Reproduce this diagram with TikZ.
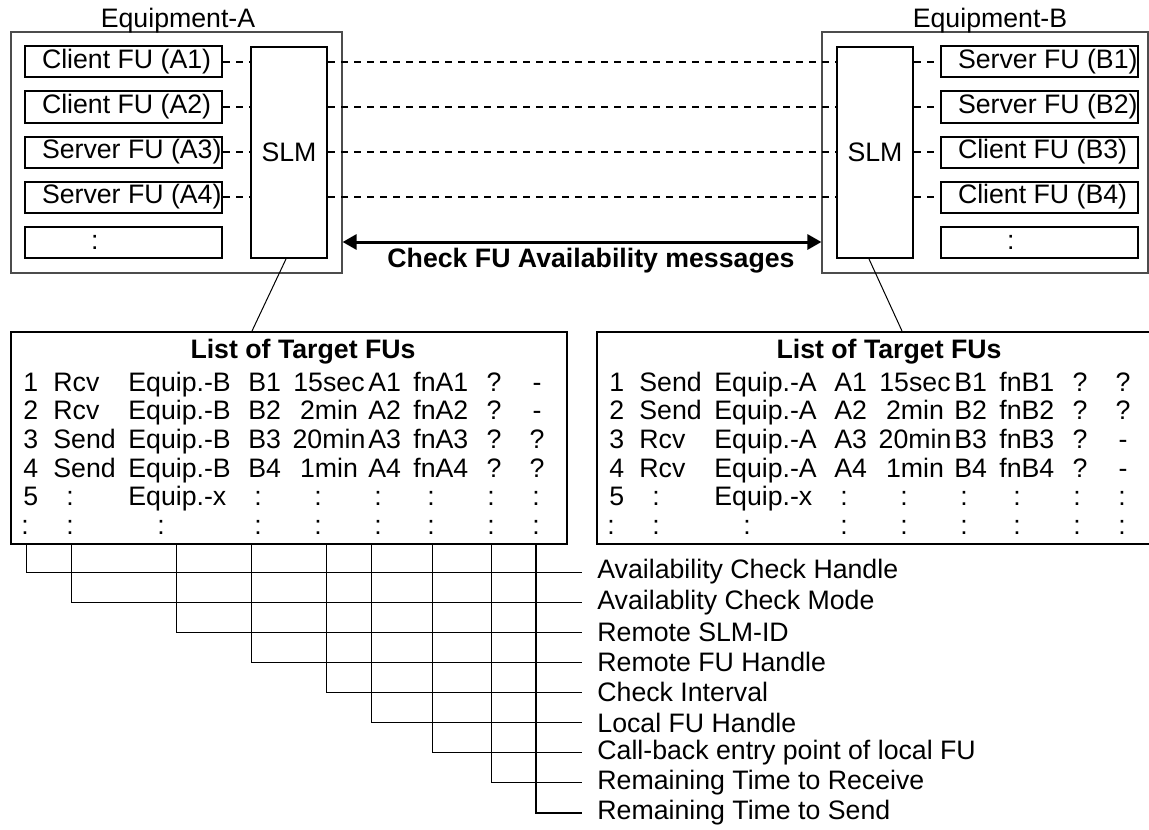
\documentclass[tikz,border=0pt]{standalone}
\usepackage{fontspec}
\setmainfont{Liberation Sans}
\usepackage{tikz}
\usetikzlibrary{arrows.meta,positioning}
\newcommand{\fulabel}[1]{\makebox[81.5pt][l]{#1}}

\begin{document}
\begin{tikzpicture}[x=0.5pt,y=-0.5pt,
  font=\fontsize{13.35}{16}\selectfont,
  eqbox/.style={draw=black!70,line width=0.6pt,inner sep=0pt,minimum height=120.5pt},
  fubox/.style={draw,line width=1pt,inner sep=0pt,inner xsep=8.5pt,
    minimum height=15.5pt},
  slmbox/.style={draw,line width=1pt,inner sep=0pt,minimum width=38pt,
    minimum height=105.5pt},
  listbox/.style={draw,line width=1pt,inner sep=0pt,minimum height=106pt},
  cell/.style={anchor=base west,inner sep=0pt},
  ccell/.style={anchor=base,inner sep=0pt},
  head/.style={anchor=base,inner sep=0pt,font=\fontsize{13.35}{16}\selectfont\bfseries},
  tag/.style={anchor=west,inner xsep=7.5pt,inner ysep=0pt},
  dashln/.style={line width=0.9pt,dash pattern=on 3.5pt off 3pt},
  lead/.style={line width=0.5pt},
  msgarr/.style={{Triangle[length=7pt,width=7.5pt]}-{Triangle[length=7pt,width=7.5pt]},
    line width=1.5pt}]
  \clip (0,0) rectangle (1149,829);

  % the two equipments
  \node[eqbox,minimum width=165.5pt] (eqA) at (176.5,152.5) {};
  \node[eqbox,minimum width=163pt] (eqB) at (985,152.5) {};
  \node[anchor=base] (nameA) at (178,28) {Equipment-A};
  \node[anchor=base] (nameB) at (990,28) {Equipment-B};

  \node[fubox] (fa1) at (123.5,62) {\fulabel{Client FU (A1)}};
  \node[fubox] (fa2) at (123.5,107) {\fulabel{Client FU (A2)}};
  \node[fubox] (fa3) at (123.5,152) {\fulabel{Server FU (A3)}};
  \node[fubox] (fa4) at (123.5,197) {\fulabel{Server FU (A4)}};
  \node[fubox] (fa5) at (123.5,242) {\fulabel{\hspace*{24.5pt}:}};
  \node[slmbox] (slmA) at (289,152.5) {SLM};

  \node[slmbox] (slmB) at (875,152.5) {SLM};
  \node[fubox] (fb1) at (1039.5,62) {\fulabel{Server FU (B1)}};
  \node[fubox] (fb2) at (1039.5,107) {\fulabel{Server FU (B2)}};
  \node[fubox] (fb3) at (1039.5,152) {\fulabel{Client FU (B3)}};
  \node[fubox] (fb4) at (1039.5,197) {\fulabel{Client FU (B4)}};
  \node[fubox] (fb5) at (1039.5,242) {\fulabel{\hspace*{24.5pt}:}};

  \foreach \i in {1,...,4}
    \draw[dashln] (fa\i) -- (fa\i -| slmA.west)
      (fa\i -| slmA.east) -- (fa\i -| slmB.west)
      (fa\i -| slmB.east) -- (fb\i);

  \draw[msgarr] (fa5 -| eqA.east) -- (fa5 -| eqB.west);
  \node[head] (msg) at (591,267) {Check FU Availability messages};

  % lists of target FUs
  \node[listbox,minimum width=278pt] (tabA) at (289,438) {};
  \node[listbox,minimum width=281.5pt] (tabB) at (878.5,438) {};
  \draw[lead] ([xshift=-1.5pt]slmA.south) -- ([xshift=-18.5pt]tabA.north);
  \draw[lead] ([xshift=-3pt]slmB.south) -- ([xshift=153pt]tabB.north west);

  \node[head] (ta) at (303,358) {List of Target FUs};
  \foreach \r/\y/\md/\iv/\ls in {1/391/Rcv/15sec/-, 2/419.7/Rcv/2min/-,
      3/448.3/Send/20min/?, 4/477/Send/1min/?}{
    \node[cell] (a\r-1) at (23,\y) {\r};
    \node[cell] (a\r-2) at (53,\y) {\md};
    \node[cell] (a\r-3) at (128,\y) {Equip.-B};
    \node[cell] (a\r-4) at (248,\y) {B\r};
    \node[ccell] (a\r-5) at (329,\y) {\iv};
    \node[cell] (a\r-6) at (368,\y) {A\r};
    \node[cell] (a\r-7) at (413,\y) {fnA\r};
    \node[ccell] (a\r-8) at (494,\y) {?};
    \node[ccell] (a\r-9) at (537,\y) {\ls};
  }
  \node[cell] (a5-1) at (23,505.7) {5};
  \node[ccell] (a5-2) at (70,505.7) {:};
  \node[cell] (a5-3) at (128,505.7) {Equip.-x};
  \foreach \x [count=\c from 4] in {258,318,378,431,491,536}
    \node[ccell] (a5-\c) at (\x,505.7) {:};
  \foreach \x [count=\c] in {25,70,161,258,318,378,431,491,536}
    \node[ccell] (a6-\c) at (\x,534.3) {:};

  \begin{scope}[xshift=293pt]
    \node[head] (tb) at (303,358) {List of Target FUs};
    \foreach \r/\y/\md/\iv/\ls in {1/391/Send/15sec/?, 2/419.7/Send/2min/?,
        3/448.3/Rcv/20min/-, 4/477/Rcv/1min/-}{
      \node[cell] (b\r-1) at (23,\y) {\r};
      \node[cell] (b\r-2) at (53,\y) {\md};
      \node[cell] (b\r-3) at (128,\y) {Equip.-A};
      \node[cell] (b\r-4) at (248,\y) {A\r};
      \node[ccell] (b\r-5) at (329,\y) {\iv};
      \node[cell] (b\r-6) at (368,\y) {B\r};
      \node[cell] (b\r-7) at (413,\y) {fnB\r};
      \node[ccell] (b\r-8) at (494,\y) {?};
      \node[ccell] (b\r-9) at (537,\y) {\ls};
    }
    \node[cell] (b5-1) at (23,505.7) {5};
    \node[ccell] (b5-2) at (70,505.7) {:};
    \node[cell] (b5-3) at (128,505.7) {Equip.-x};
    \foreach \x [count=\c from 4] in {258,318,378,431,491,536}
      \node[ccell] (b5-\c) at (\x,505.7) {:};
    \foreach \x [count=\c] in {25,70,161,258,318,378,431,491,536}
      \node[ccell] (b6-\c) at (\x,534.3) {:};
  \end{scope}

  % field names
  \foreach \t [count=\i] in {Availability Check Handle, Availablity Check Mode,
      Remote SLM-ID, Remote FU Handle, Check Interval, Local FU Handle,
      Call-back entry point of local FU, Remaining Time to Receive,
      Remaining Time to Send}
    \node[tag] (t\i) at (582,{572+30.1*(\i-1)}) {\t};
  \foreach \x/\i in {26/1,71/2,176/3,251/4,326/5,371/6,432/7,491/8}
    \draw[lead] (\x,0 |- tabA.south) |- (t\i.west);
  \draw[lead,line width=1pt] (536,0 |- tabA.south) |- (t9.west);
\end{tikzpicture}
\end{document}
